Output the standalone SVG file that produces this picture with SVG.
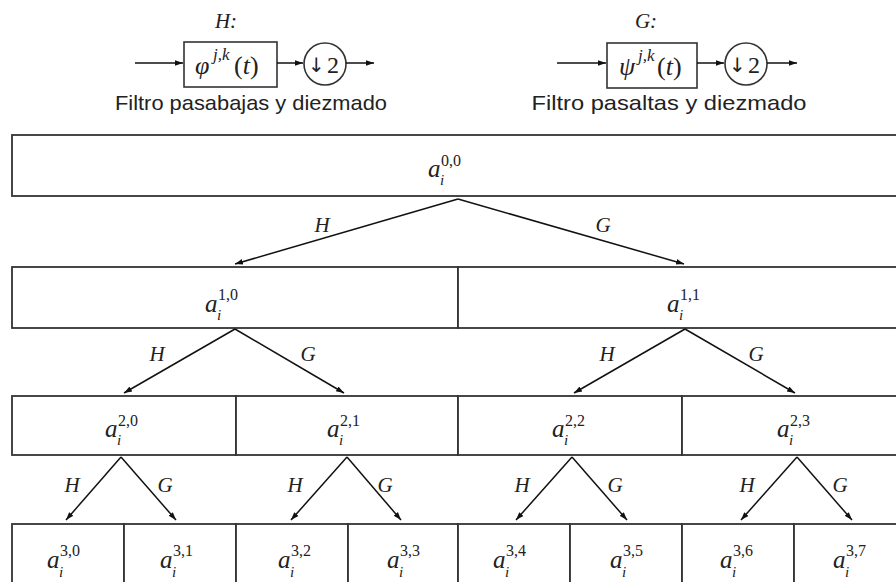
<svg xmlns="http://www.w3.org/2000/svg" width="896" height="582" viewBox="0 0 896 582">
<defs>
<marker id="ah" viewBox="0 0 10 10" refX="10" refY="5" markerWidth="8" markerHeight="8" markerUnits="userSpaceOnUse" orient="auto"><path d="M0,1.5 L10,5 L0,8.5 z" fill="#111"/></marker>
</defs>
<style>
.cell{fill:#fff;stroke:#333;stroke-width:1.8}
.blk{fill:#fff;stroke:#333;stroke-width:1.6}
.con{stroke:#111;stroke-width:1.5;fill:none;marker-end:url(#ah)}
.m{font-family:"Liberation Serif","DejaVu Serif",serif;fill:#222}
.a{font-size:25px;font-style:italic}
.i{font-size:15px;font-style:italic}
.s{font-size:16px}
.e{font-size:21px;font-style:italic;text-anchor:middle}
.arr{font-family:"DejaVu Sans",sans-serif;font-size:20px;fill:#222}
.cap{font-family:"Liberation Sans",Arial,sans-serif;font-size:21px;fill:#222;text-anchor:middle}
</style>
<rect width="896" height="582" fill="#fff"/>

<g id="filter-H">
<text class="m e" x="226" y="28">H:</text>
<rect class="blk" x="184" y="42" width="93" height="45"/>
<text class="m" x="195" y="74" font-size="26" font-style="italic">φ</text>
<text class="m" x="213" y="60" font-size="17" font-style="italic">j,k</text>
<text class="m" x="234" y="74" font-size="26">(<tspan font-style="italic">t</tspan>)</text>
<circle class="blk" cx="325" cy="64" r="21"/>
<text class="arr" x="308" y="72">↓</text>
<text class="m" x="327" y="73" font-size="24">2</text>
<text class="cap" x="251" y="110" textLength="272" lengthAdjust="spacingAndGlyphs">Filtro pasabajas y diezmado</text>
</g>

<g id="filter-G">
<text class="m e" x="646" y="28">G:</text>
<rect class="blk" x="607" y="43" width="90" height="45"/>
<text class="m" x="619" y="75" font-size="26" font-style="italic">ψ</text>
<text class="m" x="638" y="61" font-size="17" font-style="italic">j,k</text>
<text class="m" x="657" y="75" font-size="26">(<tspan font-style="italic">t</tspan>)</text>
<circle class="blk" cx="746" cy="64" r="21"/>
<text class="arr" x="729" y="72">↓</text>
<text class="m" x="748" y="73" font-size="24">2</text>
<text class="cap" x="669" y="110" textLength="275" lengthAdjust="spacingAndGlyphs">Filtro pasaltas y diezmado</text>
</g>

<g id="n00"><rect class="cell" x="12" y="135" width="900" height="61"/>
<text class="m a" x="428" y="177">a</text><text class="m i" x="440" y="185">i</text><text class="m s" x="441" y="166">0,0</text></g>

<g id="n10"><rect class="cell" x="12" y="267" width="446" height="61"/>
<text class="m a" x="205" y="312">a</text><text class="m i" x="217" y="320">i</text><text class="m s" x="218" y="300">1,0</text></g>
<g id="n11"><rect class="cell" x="458" y="267" width="454" height="61"/>
<text class="m a" x="667" y="312">a</text><text class="m i" x="679" y="320">i</text><text class="m s" x="680" y="300">1,1</text></g>

<g id="n20"><rect class="cell" x="12" y="396" width="224" height="59"/>
<text class="m a" x="105" y="437">a</text><text class="m i" x="117" y="445">i</text><text class="m s" x="118" y="426">2,0</text></g>
<g id="n21"><rect class="cell" x="236" y="396" width="222" height="59"/>
<text class="m a" x="327" y="437">a</text><text class="m i" x="339" y="445">i</text><text class="m s" x="340" y="426">2,1</text></g>
<g id="n22"><rect class="cell" x="458" y="396" width="224" height="59"/>
<text class="m a" x="552" y="437">a</text><text class="m i" x="564" y="445">i</text><text class="m s" x="565" y="426">2,2</text></g>
<g id="n23"><rect class="cell" x="682" y="396" width="230" height="59"/>
<text class="m a" x="777" y="437">a</text><text class="m i" x="789" y="445">i</text><text class="m s" x="790" y="426">2,3</text></g>

<g id="n30"><rect class="cell" x="12" y="524" width="112" height="80"/>
<text class="m a" x="47" y="568">a</text><text class="m i" x="59" y="577">i</text><text class="m s" x="60" y="556">3,0</text></g>
<g id="n31"><rect class="cell" x="124" y="524" width="112" height="80"/>
<text class="m a" x="160" y="568">a</text><text class="m i" x="172" y="577">i</text><text class="m s" x="173" y="556">3,1</text></g>
<g id="n32"><rect class="cell" x="236" y="524" width="112" height="80"/>
<text class="m a" x="278" y="568">a</text><text class="m i" x="290" y="577">i</text><text class="m s" x="291" y="556">3,2</text></g>
<g id="n33"><rect class="cell" x="348" y="524" width="110" height="80"/>
<text class="m a" x="387" y="568">a</text><text class="m i" x="399" y="577">i</text><text class="m s" x="400" y="556">3,3</text></g>
<g id="n34"><rect class="cell" x="458" y="524" width="112" height="80"/>
<text class="m a" x="493" y="568">a</text><text class="m i" x="505" y="577">i</text><text class="m s" x="506" y="556">3,4</text></g>
<g id="n35"><rect class="cell" x="570" y="524" width="112" height="80"/>
<text class="m a" x="610" y="568">a</text><text class="m i" x="622" y="577">i</text><text class="m s" x="623" y="556">3,5</text></g>
<g id="n36"><rect class="cell" x="682" y="524" width="112" height="80"/>
<text class="m a" x="720" y="568">a</text><text class="m i" x="732" y="577">i</text><text class="m s" x="733" y="556">3,6</text></g>
<g id="n37"><rect class="cell" x="794" y="524" width="118" height="80"/>
<text class="m a" x="833" y="568">a</text><text class="m i" x="845" y="577">i</text><text class="m s" x="846" y="556">3,7</text></g>

<g id="connectors">
<line class="con" x1="135" y1="63" x2="183" y2="63"/>
<line class="con" x1="277" y1="63" x2="303" y2="63"/>
<line class="con" x1="346" y1="63" x2="374" y2="63"/>
<line class="con" x1="557" y1="63" x2="606" y2="63"/>
<line class="con" x1="697" y1="63" x2="724" y2="63"/>
<line class="con" x1="767" y1="63" x2="797" y2="63"/>

<line class="con" x1="458" y1="199" x2="235" y2="264"/>
<line class="con" x1="458" y1="199" x2="684" y2="264"/>
<line class="con" x1="235" y1="329" x2="124" y2="393"/>
<line class="con" x1="235" y1="329" x2="344" y2="393"/>
<line class="con" x1="685" y1="329" x2="574" y2="393"/>
<line class="con" x1="685" y1="329" x2="795" y2="393"/>
<line class="con" x1="121" y1="457" x2="66" y2="520"/>
<line class="con" x1="121" y1="457" x2="176" y2="520"/>
<line class="con" x1="347" y1="457" x2="291" y2="520"/>
<line class="con" x1="347" y1="457" x2="401" y2="520"/>
<line class="con" x1="572" y1="457" x2="516" y2="520"/>
<line class="con" x1="572" y1="457" x2="627" y2="520"/>
<line class="con" x1="797" y1="457" x2="741" y2="520"/>
<line class="con" x1="797" y1="457" x2="852" y2="520"/>

<text class="m e" x="322" y="232">H</text>
<text class="m e" x="603" y="232">G</text>
<text class="m e" x="157" y="361">H</text>
<text class="m e" x="308" y="361">G</text>
<text class="m e" x="607" y="361">H</text>
<text class="m e" x="756" y="361">G</text>
<text class="m e" x="72" y="492">H</text>
<text class="m e" x="165" y="492">G</text>
<text class="m e" x="295" y="492">H</text>
<text class="m e" x="385" y="492">G</text>
<text class="m e" x="522" y="492">H</text>
<text class="m e" x="615" y="492">G</text>
<text class="m e" x="747" y="492">H</text>
<text class="m e" x="840" y="492">G</text>
</g>
</svg>
